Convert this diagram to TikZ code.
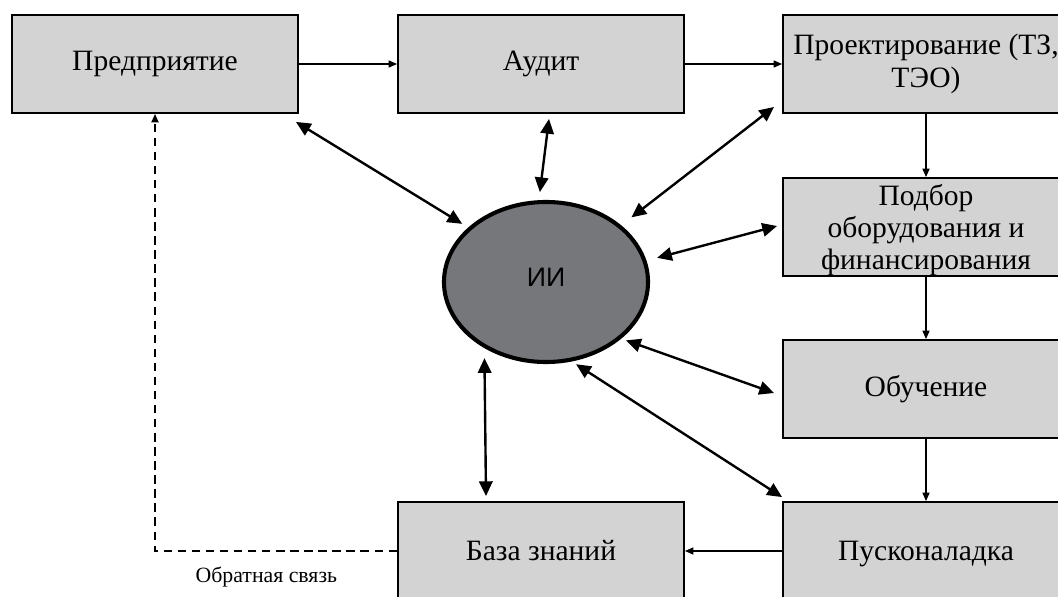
\documentclass[tikz,border=0pt]{standalone}
\usepackage{fontspec}
\setmainfont{Liberation Serif}
\newfontfamily\iisans{Liberation Sans}
\usetikzlibrary{arrows.meta,shapes.geometric}

\definecolor{boxgray}{HTML}{D3D3D3}
\definecolor{coregray}{HTML}{76777B}

\begin{document}
\begin{tikzpicture}
        [x=0.025cm,
        y=-0.025cm,
        stage/.style={draw=black, line width=1.3pt, fill=boxgray, minimum width=7.15cm, minimum height=2.45cm, inner sep=2pt, align=center, font=\fontsize{21}{23}\selectfont},
        core/.style={ellipse, draw=black, line width=2.9pt, fill=coregray, minimum width=5.1cm, minimum height=4cm, inner sep=0pt, font=\iisans\fontsize{19}{22}\selectfont},
        flow/.style={-{Triangle[length=6pt,width=5pt]}, line width=1pt},
        link/.style={{Triangle[length=10.5pt,width=9.5pt]}-{Triangle[length=10.5pt,width=9.5pt]}, line width=1.7pt},
        feedback/.style={-{Triangle[length=6pt,width=5pt]}, line width=1.3pt, dash pattern=on 6pt off 4pt},
        note/.style={inner sep=0pt, font=\fontsize{15.5}{17}\selectfont}]
%
%% Frame of the picture
%%
\useasboundingbox (0,0) rectangle (1058,597);
\clip (0,0) rectangle (1058,597);
%%
%% Drawing the stages
%%
\node[stage] (pred) at (155,64) {Предприятие};
\node[stage] (audit) at (541,64) {Аудит};
\node[stage] (proj) at (926,64) {Проектирование (ТЗ,\\ТЭО)};
\node[stage] (podbor) at (926,227) {Подбор\\оборудования и\\\raisebox{0pt}[\height][0pt]{финансирования}};
\node[stage] (obuch) at (926,389) {Обучение};
\node[stage] (pusk) at (926,551) {\raisebox{0pt}[\height][0pt]{Пусконаладка}};
\node[stage] (baza) at (541,551) {База знаний};
%%
%% Drawing the core
%%
\node[core] (ii) at (546,282) {\raisebox{7pt}{ИИ}};
%%
%% Drawing the process flow
%%
\draw[flow] (pred) -- (audit);
\draw[flow] (audit) -- (proj);
\draw[flow] (proj) -- (podbor);
\draw[flow] (podbor) -- (obuch);
\draw[flow] (obuch) -- (pusk);
\draw[flow] (pusk) -- (baza);
%%
%% Drawing the links to the core
%%
\draw[link, shorten >=5pt] ([shift={(-3,8)}]pred.south east) -- (ii.145);
\draw[link, shorten >=5.7pt] ([shift={(8,5)}]audit.south) -- (ii.95);
\draw[link, shorten >=9.2pt] ([shift={(-8,-7)}]proj.south west) -- (ii.37);
\draw[link, shorten >=7.8pt] ([shift={(-5,-1)}]podbor.west) -- (ii.12);
\draw[link, shorten >=3.6pt] ([shift={(-8,4)}]obuch.west) -- (ii.-37);
\draw[link, shorten >=3.6pt] ([shift={(0,-4)}]pusk.north west) -- (ii.-72);
\draw[link, shorten >=7.1pt] ([shift={(-55,-5)}]baza.north) -- (ii.-133);
%%
%% Drawing the feedback
%%
\draw[feedback] (baza.west) -| node[note, pos=0.27, below=11pt] (fbtext) {Обратная связь} (pred.south);

\end{tikzpicture}
\end{document}
